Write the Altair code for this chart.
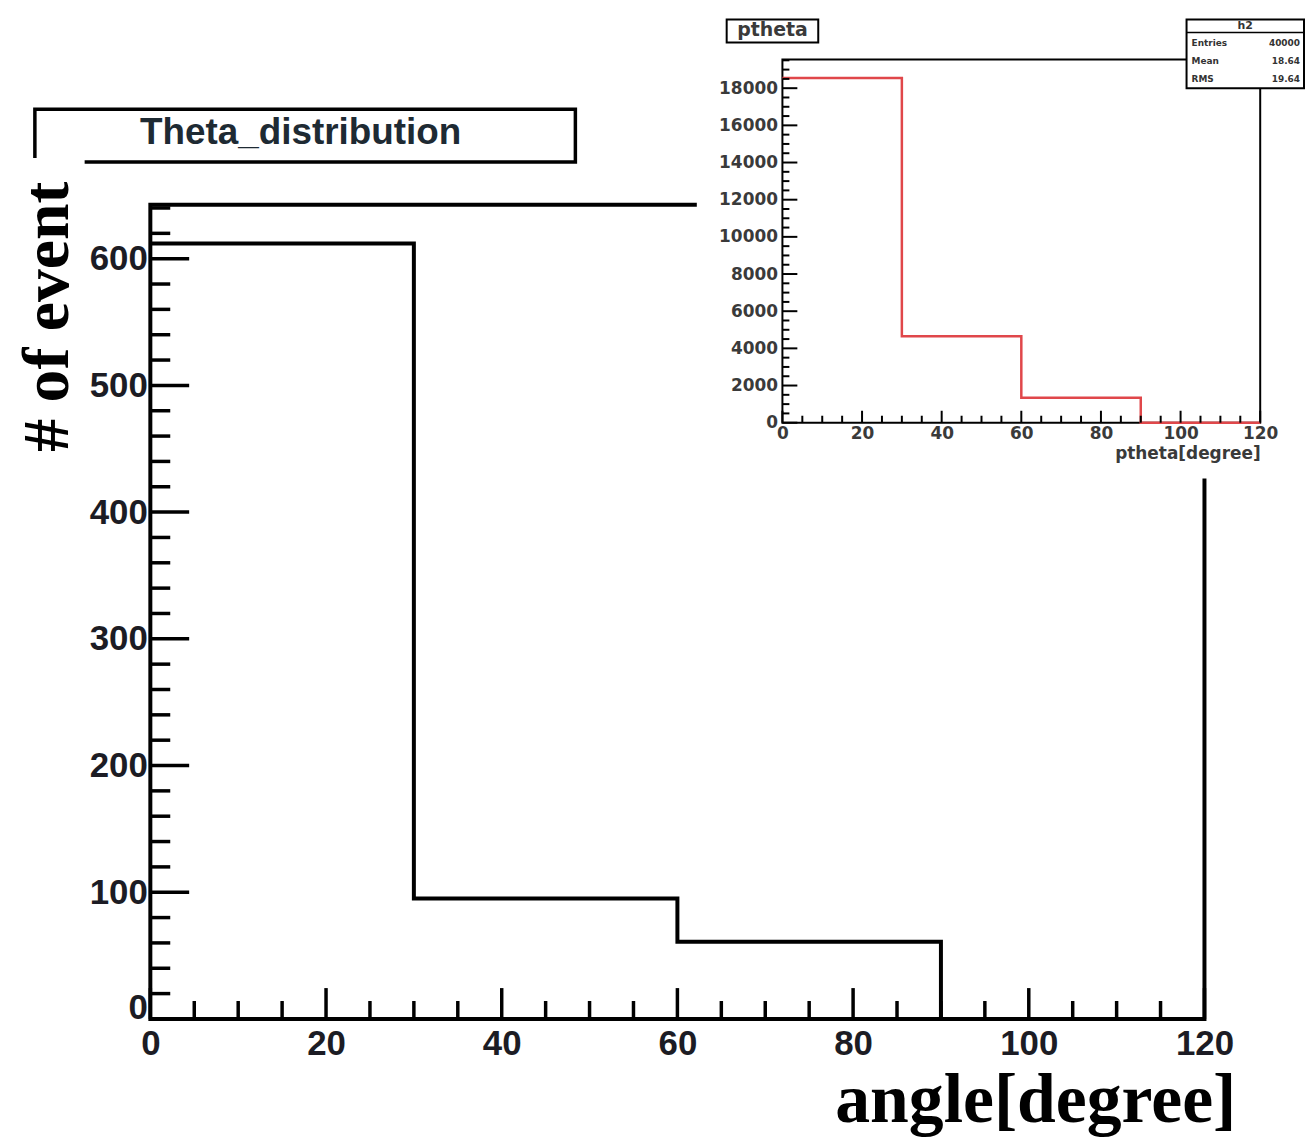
import altair as alt
import pandas as pd

# ---------------- data ----------------
# main histogram "Theta_distribution"
main_edges = [0, 30, 60, 90, 120]
main_counts = [612, 95, 61, 0]
main_ymax = 642.6

# inset histogram "ptheta"
inset_edges = [0, 30, 60, 90, 120]
inset_counts = [18550, 4650, 1340, 0]
inset_ymax = 19550

main_x_major = [0, 20, 40, 60, 80, 100, 120]
main_x_minor = [v for v in range(0, 121, 5) if v % 20]
main_y_major = [0, 100, 200, 300, 400, 500, 600]
main_y_minor = [v for v in range(0, 641, 20) if v % 100]

inset_x_major = [0, 20, 40, 60, 80, 100, 120]
inset_x_minor = [v for v in range(0, 121, 5) if v % 20]
inset_y_major = list(range(0, 18001, 2000))
inset_y_minor = [v for v in range(0, 19501, 500) if v % 2000]

stats_names = ["Entries", "Mean", "RMS"]
stats_values = ["40000", "18.64", "19.64"]

# ---------------- layout ----------------
W, H = 1059, 818
PAD = {"left": 143, "top": 195, "right": 101, "bottom": 119}
IX0, IX1 = 635, 1115      # inset x range (px, plot coords)
IY0, IY1 = 219, -146      # inset y range (px, plot coords)

NARROW = "Liberation Sans Narrow, Arial Narrow, Liberation Sans"
SERIF = "Liberation Serif"
SANS = "DejaVu Sans"

mx = alt.Scale(domain=[0, 120], nice=False, zero=False)
my = alt.Scale(domain=[0, main_ymax], nice=False, zero=False)
ix = alt.Scale(domain=[0, 120], range=[IX0, IX1], nice=False, zero=False)
iy = alt.Scale(domain=[0, inset_ymax], range=[IY0, IY1], nice=False, zero=False)

one = pd.DataFrame({"a": [0]})


def step_df(edges, counts):
    return pd.DataFrame({"x": edges, "y": counts + [counts[-1]]})


# ---------------- main plot ----------------
main_frame = alt.Chart(pd.DataFrame({"x0": [0], "x1": [120], "y0": [0], "y1": [main_ymax]})).mark_rect(
    fillOpacity=0, stroke="black", strokeWidth=4
).encode(
    x=alt.X("x0:Q", scale=mx, axis=None), x2="x1:Q",
    y=alt.Y("y0:Q", scale=my, axis=None), y2="y1:Q",
)

main_line = alt.Chart(step_df(main_edges, main_counts)).mark_line(
    interpolate="step-after", color="black", strokeWidth=4
).encode(
    x=alt.X("x:Q", scale=mx, axis=alt.Axis(
        orient="bottom", values=main_x_major, format="d", ticks=False, domain=False, grid=False,
        labelFont=NARROW, labelFontSize=35, labelFontWeight="bold", labelColor="#1c1c24",
        labelPadding=8, labelFlush=False,
        title="angle[degree]", titleFont=SERIF, titleFontSize=70, titleFontWeight="bold",
        titleColor="black", titleX=889, titleY=82, titleAlign="center", titleBaseline="middle",
        zindex=1)),
    y=alt.Y("y:Q", scale=my, axis=alt.Axis(
        orient="left", values=main_y_major, format="d", ticks=False, domain=False, grid=False,
        labelFont=NARROW, labelFontSize=35, labelFontWeight="bold", labelColor="#1c1c24",
        labelPadding=3, labelFlush=False,
        labelBaseline=alt.condition("datum.value == 0", alt.value("alphabetic"), alt.value("middle")),
        title="# of event", titleFont=SERIF, titleFontSize=66, titleFontWeight="bold",
        titleColor="black", titleX=-103, titleY=112, titleAngle=270, titleAlign="center",
        titleBaseline="middle", zindex=1)),
)


def xticks(vals, scale, y0, length, width):
    return alt.Chart(pd.DataFrame({"v": vals})).mark_rule(color="black", strokeWidth=width).encode(
        x=alt.X("v:Q", scale=scale, axis=None), y=alt.value(y0), y2=alt.value(y0 - length)
    )


def yticks(vals, scale, x0, length, width):
    return alt.Chart(pd.DataFrame({"v": vals})).mark_rule(color="black", strokeWidth=width).encode(
        y=alt.Y("v:Q", scale=scale, axis=None), x=alt.value(x0), x2=alt.value(x0 + length)
    )


main_ticks = [
    xticks(main_x_major, mx, H, 31, 3.5),
    xticks(main_x_minor, mx, H, 18, 3.5),
    yticks(main_y_major, my, 0, 39, 3.5),
    yticks(main_y_minor, my, 0, 20, 3.5),
]

title_box = alt.Chart(one).mark_rect(fill="white", stroke="black", strokeWidth=3.5).encode(
    x=alt.value(-116), x2=alt.value(427), y=alt.value(-96), y2=alt.value(-43)
)
title_text = alt.Chart(one).mark_text(
    text="Theta_distribution", font=NARROW, fontSize=37, fontWeight="bold", color="#1e2a33",
    align="center", baseline="middle"
).encode(x=alt.value(151), y=alt.value(-72))

ytitle_patch = alt.Chart(one).mark_rect(fill="white").encode(
    x=alt.value(-151), x2=alt.value(-66), y=alt.value(-47), y2=alt.value(270)
)

# ---------------- inset ----------------
inset_bg = alt.Chart(one).mark_rect(fill="white").encode(
    x=alt.value(549), x2=alt.value(1170), y=alt.value(-195), y2=alt.value(275)
)

inset_frame = alt.Chart(pd.DataFrame({"x0": [0], "x1": [120], "y0": [0], "y1": [inset_ymax]})).mark_rect(
    fillOpacity=0, stroke="black", strokeWidth=2
).encode(
    x=alt.X("x0:Q", scale=ix, axis=None), x2="x1:Q",
    y=alt.Y("y0:Q", scale=iy, axis=None), y2="y1:Q",
)

inset_line = alt.Chart(step_df(inset_edges, inset_counts)).mark_line(
    interpolate="step-after", color="#e0474a", strokeWidth=2.5
).encode(
    x=alt.X("x:Q", scale=ix, axis=alt.Axis(
        orient="bottom", offset=-(H - IY0), values=inset_x_major, format="d", ticks=False,
        domain=False, grid=False, labelFont=SANS, labelFontSize=17, labelFontWeight="bold",
        labelColor="#3a3a3a", labelPadding=3, labelFlush=False,
        title="ptheta[degree]", titleFont=SANS, titleFontSize=17, titleFontWeight="bold",
        titleColor="#3a3a3a", titleX=IX1, titleY=31, titleAlign="right", titleBaseline="middle",
        zindex=1)),
    y=alt.Y("y:Q", scale=iy, axis=alt.Axis(
        orient="left", offset=-IX0, values=inset_y_major, format="d", ticks=False, domain=False,
        grid=False, labelFont=SANS, labelFontSize=17, labelFontWeight="bold",
        labelColor="#3a3a3a", labelPadding=5, labelFlush=False, title=None, zindex=1)),
)

inset_ticks = [
    xticks(inset_x_major, ix, IY0, 12, 2),
    xticks(inset_x_minor, ix, IY0, 7, 2),
    yticks(inset_y_major, iy, IX0, 15, 2),
    yticks(inset_y_minor, iy, IX0, 7, 2),
]

ptheta_box = alt.Chart(one).mark_rect(fill="white", stroke="black", strokeWidth=2).encode(
    x=alt.value(579), x2=alt.value(671), y=alt.value(-186), y2=alt.value(-163)
)
ptheta_text = alt.Chart(one).mark_text(
    text="ptheta", font=SANS, fontSize=19, fontWeight="bold", color="#3a3a3a",
    align="center", baseline="middle"
).encode(x=alt.value(625), y=alt.value(-175))

stats_box = alt.Chart(one).mark_rect(fill="white", stroke="black", strokeWidth=2).encode(
    x=alt.value(1041), x2=alt.value(1159), y=alt.value(-186), y2=alt.value(-117)
)
stats_sep = alt.Chart(one).mark_rule(color="black", strokeWidth=1.5).encode(
    x=alt.value(1041), x2=alt.value(1159), y=alt.value(-173)
)
stats_head = alt.Chart(one).mark_text(
    text="h2", font=SANS, fontSize=11, fontWeight="bold", color="#333333",
    align="center", baseline="middle"
).encode(x=alt.value(1100), y=alt.value(-179.5))

stats_df = pd.DataFrame({"row": [0, 1, 2], "name": stats_names, "val": stats_values})
row_scale = alt.Scale(domain=[0, 2], range=[-162, -126], nice=False, zero=False)
stats_names_txt = alt.Chart(stats_df).mark_text(
    font=SANS, fontSize=9, fontWeight="bold", color="#333333", align="left", baseline="middle"
).encode(x=alt.value(1046), y=alt.Y("row:Q", scale=row_scale, axis=None), text="name:N")
stats_vals_txt = alt.Chart(stats_df).mark_text(
    font=SANS, fontSize=9, fontWeight="bold", color="#333333", align="right", baseline="middle"
).encode(x=alt.value(1155), y=alt.Y("row:Q", scale=row_scale, axis=None), text="val:N")

layers = (
    [main_frame, main_line] + main_ticks
    + [title_box, title_text, ytitle_patch, inset_bg, inset_frame, inset_line] + inset_ticks
    + [ptheta_box, ptheta_text, stats_box, stats_sep, stats_head, stats_names_txt, stats_vals_txt]
)

chart = alt.layer(*layers).resolve_scale(
    x="independent", y="independent"
).properties(
    width=W, height=H, padding=PAD, autosize=alt.AutoSizeParams(type="none"),
    background="white",
).configure_view(stroke=None)

chart.save("out.html", embed_options={"renderer": "svg", "actions": False})
